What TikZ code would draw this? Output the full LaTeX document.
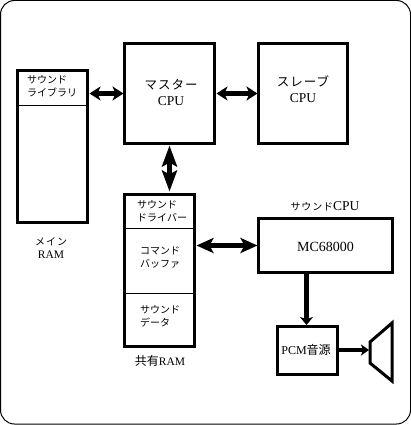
\documentclass[tikz,border=0pt]{standalone}
\usepackage{fontspec}
\setmainfont{Liberation Serif}
\newfontfamily\jpf{Noto Sans CJK JP}
\newfontfamily\jpw[LetterSpace=8]{Noto Sans CJK JP}
\newfontfamily\jpm[LetterSpace=10]{Noto Sans CJK JP}
\usetikzlibrary{arrows.meta,calc}
\newcommand{\smalljp}{\fontsize{10}{13}\selectfont\jpf}
\newcommand{\bigjp}{\fontsize{12.5}{16}\selectfont\jpw}
\newcommand{\latn}[1]{{\fontsize{13.5}{16}\selectfont\rmfamily #1}}
\newcommand{\latnram}[1]{{\fontsize{11.5}{14}\selectfont\rmfamily #1}}
\tikzset{
  x=1pt,y=-1pt,
  blockbox/.style={draw,line width=3pt,rectangle,inner sep=0pt,outer sep=0pt,anchor=north west},
  thin rule/.style={line width=1pt},
  link/.style={line width=4.4pt},
  small label/.style={inner sep=0pt,align=left,font=\smalljp},
  big label/.style={inner sep=0pt,align=center,font=\bigjp},
  hhead/.style={link,{Stealth[length=11pt,width=14pt,inset=3pt]}-{Stealth[length=11pt,width=14pt,inset=3pt]}},
  vhead/.style={link,{Stealth[length=21pt,width=15pt,inset=4pt]}-{Stealth[length=21pt,width=15pt,inset=4pt]}},
  whead/.style={link,{Stealth[length=17pt,width=15pt,inset=4pt]}-{Stealth[length=17pt,width=15pt,inset=4pt]}},
}
\begin{document}
\begin{tikzpicture}
\useasboundingbox (0,0) rectangle (411,425);
\draw[line width=1pt,rounded corners=14pt] (0.5,0.5) rectangle (410.5,424);
% blocks
\node[blockbox,minimum width=70pt,minimum height=152pt] (main) at (17.5,70.5) {};
\node[blockbox,minimum width=90pt,minimum height=100pt] (master) at (124.5,43.5) {};
\node[blockbox,minimum width=89pt,minimum height=100pt] (slave) at (258.5,43.5) {};
\node[blockbox,minimum width=70pt,minimum height=152pt] (shared) at (124.5,194.5) {};
\node[blockbox,minimum width=134pt,minimum height=54pt] (sound) at (258.5,218.5) {};
\node[blockbox,minimum width=60pt,minimum height=48pt] (pcm) at (277.5,326) {};
% dividers
\coordinate (d1) at (17.5,105.5);
\draw[thin rule] (d1) -- (d1 -| main.east);
\coordinate (d2) at (124.5,228.5);
\draw[thin rule] (d2) -- (d2 -| shared.east);
\coordinate (d3) at (124.5,293.5);
\draw[thin rule] (d3) -- (d3 -| shared.east);
% speaker
\coordinate (spk) at (369,350);
\draw[line width=3pt,line join=miter] (370,342) -- (392,323) -- (392,381) -- (370,363) -- cycle;
% connectors
\draw[hhead] ([xshift=2pt]master.west -| main.east) -- ([xshift=-1pt]master.west);
\draw[hhead] ([xshift=2pt]master.east) -- ([xshift=-1pt]slave.west);
\draw[vhead] ([yshift=-2pt]master.south) -- ([yshift=3pt]master.south |- shared.north);
\draw[whead] ([xshift=2pt]sound.west -| shared.east) -- ([xshift=-1pt]sound.west);
\draw[link,-{Stealth[length=8pt,width=13pt,inset=2pt]}] ([xshift=-1pt]sound.south -| pcm.north) -- ([xshift=-1pt,yshift=1pt]pcm.north);
\draw[link,line width=3.6pt,-{Stealth[length=8pt,width=11pt,inset=2pt]}] (pcm.east) -- (spk);
% labels
\node[small label,anchor=north west] (t1) at (27,75) {サウンド\\ライブラリ};
\node[big label] (t2) at (171,92) {マスター\\\latn{CPU}};
\node[big label] (t3) at (303,89) {スレーブ\\\latn{CPU}};
\node[small label,align=center] (t4) at (51,248) {{\jpm メイン}\\\latnram{RAM}};
\node[small label,anchor=north west] (t5) at (137,200) {サウンド\\ドライバー};
\node[small label,anchor=north west] (t6) at (140,247) {コマンド\\バッファ};
\node[small label,anchor=north west] (t7) at (140,305) {サウンド\\データ};
\node[small label,anchor=center] (t8) at (160,361) {\fontsize{12}{14}\selectfont 共有\latnram{RAM}};
\node[small label,anchor=center] (t9) at (325,206) {{\jpw サウンド}\latn{CPU}};
\node[inner sep=0pt,font=\fontsize{14}{16}\selectfont] (t10) at (325.5,247) {MC68000};
\node[inner sep=0pt,font=\fontsize{12}{14}\selectfont] (t11) at (306,350) {PCM{\jpf 音源}};
\end{tikzpicture}
\end{document}
